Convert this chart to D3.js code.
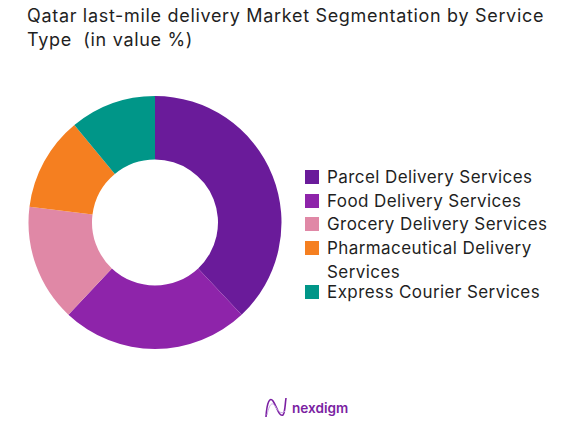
<!DOCTYPE html>
<html>
<head>
<meta charset="utf-8">
<script src="https://cdn.jsdelivr.net/npm/d3@7"></script>
<style>
  html, body { margin: 0; padding: 0; background: #fff; }
  text { font-family: Inter, "Open Sans", sans-serif; fill: #1f1f1f; }
</style>
</head>
<body>
<div id="chart"></div>
<script>
// chart values
var categories = ["Parcel Delivery Services", "Food Delivery Services", "Grocery Delivery Services", "Pharmaceutical Delivery Services", "Express Courier Services"];
var values = [38, 24, 15, 12, 11];
var colors = ["#6a1b9a", "#8e24aa", "#e088a6", "#f57f20", "#009688"];
var titleLines = ["Qatar last-mile delivery Market Segmentation by Service", "Type  (in value %)"];
var legendLines = [["Parcel Delivery Services"], ["Food Delivery Services"], ["Grocery Delivery Services"], ["Pharmaceutical Delivery", "Services"], ["Express Courier Services"]];
var legendRows = [177, 201, 224, 248, 292];

var width = 575, height = 427;
var cx = 155, cy = 222.5, outer = 126.5, inner = 63;

var svg = d3.select("#chart").append("svg")
    .attr("width", width)
    .attr("height", height)
    .style("display", "block");

// title
svg.append("g").selectAll("text")
    .data(titleLines)
    .enter().append("text")
    .attr("x", 27)
    .attr("y", function (d, i) { return 22 + i * 24; })
    .attr("xml:space", "preserve")
    .style("white-space", "pre")
    .attr("font-size", 18)
    .attr("letter-spacing", 0.68)
    .text(function (d) { return d; });

// donut
var pie = d3.pie().sort(null).value(function (d) { return d; });
var arc = d3.arc().innerRadius(inner).outerRadius(outer);

svg.append("g")
    .attr("transform", "translate(" + cx + "," + cy + ")")
    .selectAll("path")
    .data(pie(values))
    .enter().append("path")
    .attr("d", arc)
    .attr("fill", function (d, i) { return colors[i]; });

// legend
var rowScale = d3.scaleOrdinal().domain(categories).range(legendRows);
var legend = svg.append("g");

categories.forEach(function (c, i) {
    var y = rowScale(c);
    legend.append("rect")
        .attr("x", 305)
        .attr("y", y - 7)
        .attr("width", 14)
        .attr("height", 14)
        .attr("fill", colors[i]);
    legendLines[i].forEach(function (line, j) {
        legend.append("text")
            .attr("x", 327)
            .attr("y", y + 6 + j * 24)
            .attr("font-size", 17)
            .attr("letter-spacing", 0.42)
            .text(line);
    });
});

// logo
var logo = svg.append("g").attr("transform", "translate(265,397)");
logo.append("path")
    .attr("d", "M1,20 C2,4 5,0 8,4 C12,10 14,20 18,18 C20,16 20,8 21,1")
    .attr("fill", "none").attr("stroke", "#7b1fa2").attr("stroke-width", 1.6);
logo.append("path")
    .attr("d", "M2,18 C4,8 7,4 10,9 C13,14 16,18 20,14")
    .attr("fill", "none").attr("stroke", "#c9a6e4").attr("stroke-width", 1);
svg.append("text")
    .attr("x", 292)
    .attr("y", 413)
    .attr("font-size", 13.6)
    .attr("font-weight", 600)
    .style("fill", "#7b1fa2")
    .text("nexdigm");
</script>
</body>
</html>
